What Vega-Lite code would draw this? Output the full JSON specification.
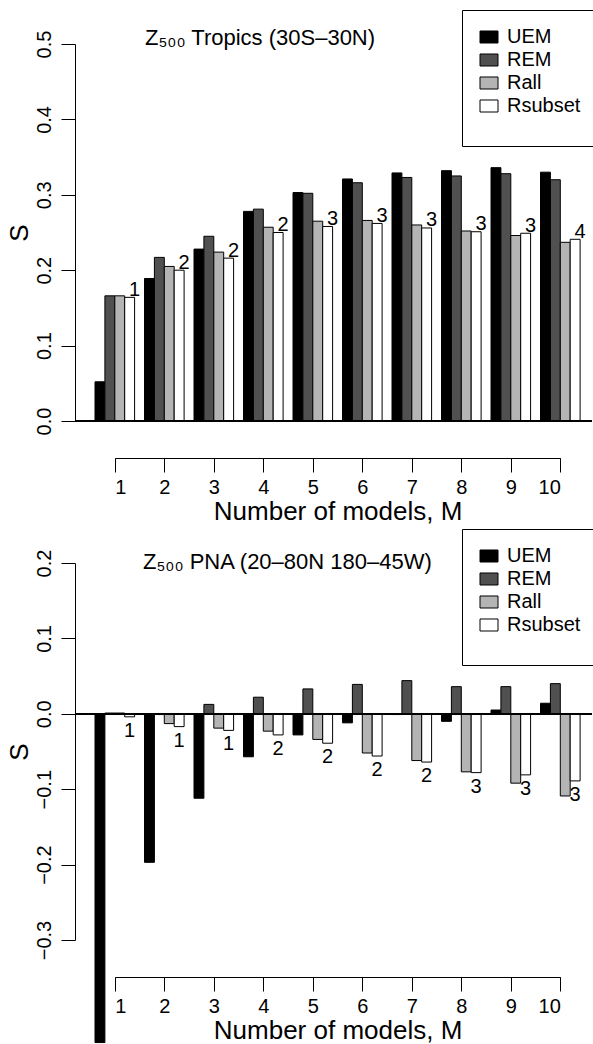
{
  "$schema": "https://vega.github.io/schema/vega-lite/v6.json",
  "padding": {"left": 6, "top": 9, "right": 0, "bottom": 0},
  "background": "white",
  "config": {
    "font": "Liberation Sans",
    "view": {"stroke": null},
    "axis": {"grid": false, "domainColor": "black", "tickColor": "black", "labelColor": "black", "titleColor": "black", "labelFontSize": 20, "titleFontSize": 26, "titleFontWeight": "normal", "tickSize": 14, "domainWidth": 1, "tickWidth": 1},
    "legend": {"labelColor": "black"},
    "title": {"color": "black", "fontWeight": "normal", "fontSize": 22}
  },
  "datasets": {
    "tropics": [
      {"M": 1, "series": "UEM", "S": 0.052}, {"M": 1, "series": "REM", "S": 0.166}, {"M": 1, "series": "Rall", "S": 0.166}, {"M": 1, "series": "Rsubset", "S": 0.164, "n": "1"},
      {"M": 2, "series": "UEM", "S": 0.189}, {"M": 2, "series": "REM", "S": 0.217}, {"M": 2, "series": "Rall", "S": 0.205}, {"M": 2, "series": "Rsubset", "S": 0.200, "n": "2"},
      {"M": 3, "series": "UEM", "S": 0.228}, {"M": 3, "series": "REM", "S": 0.245}, {"M": 3, "series": "Rall", "S": 0.224}, {"M": 3, "series": "Rsubset", "S": 0.216, "n": "2"},
      {"M": 4, "series": "UEM", "S": 0.278}, {"M": 4, "series": "REM", "S": 0.281}, {"M": 4, "series": "Rall", "S": 0.257}, {"M": 4, "series": "Rsubset", "S": 0.250, "n": "2"},
      {"M": 5, "series": "UEM", "S": 0.303}, {"M": 5, "series": "REM", "S": 0.302}, {"M": 5, "series": "Rall", "S": 0.265}, {"M": 5, "series": "Rsubset", "S": 0.258, "n": "3"},
      {"M": 6, "series": "UEM", "S": 0.321}, {"M": 6, "series": "REM", "S": 0.316}, {"M": 6, "series": "Rall", "S": 0.266}, {"M": 6, "series": "Rsubset", "S": 0.262, "n": "3"},
      {"M": 7, "series": "UEM", "S": 0.329}, {"M": 7, "series": "REM", "S": 0.323}, {"M": 7, "series": "Rall", "S": 0.260}, {"M": 7, "series": "Rsubset", "S": 0.256, "n": "3"},
      {"M": 8, "series": "UEM", "S": 0.332}, {"M": 8, "series": "REM", "S": 0.325}, {"M": 8, "series": "Rall", "S": 0.252}, {"M": 8, "series": "Rsubset", "S": 0.251, "n": "3"},
      {"M": 9, "series": "UEM", "S": 0.336}, {"M": 9, "series": "REM", "S": 0.328}, {"M": 9, "series": "Rall", "S": 0.246}, {"M": 9, "series": "Rsubset", "S": 0.249, "n": "3"},
      {"M": 10, "series": "UEM", "S": 0.330}, {"M": 10, "series": "REM", "S": 0.320}, {"M": 10, "series": "Rall", "S": 0.237}, {"M": 10, "series": "Rsubset", "S": 0.241, "n": "4"}
    ],
    "pna": [
      {"M": 1, "series": "UEM", "S": -0.436}, {"M": 1, "series": "REM", "S": 0.001}, {"M": 1, "series": "Rall", "S": 0.001}, {"M": 1, "series": "Rsubset", "S": -0.004, "n": "1"},
      {"M": 2, "series": "UEM", "S": -0.197}, {"M": 2, "series": "REM", "S": -0.001}, {"M": 2, "series": "Rall", "S": -0.013}, {"M": 2, "series": "Rsubset", "S": -0.017, "n": "1"},
      {"M": 3, "series": "UEM", "S": -0.112}, {"M": 3, "series": "REM", "S": 0.0125}, {"M": 3, "series": "Rall", "S": -0.019}, {"M": 3, "series": "Rsubset", "S": -0.022, "n": "1"},
      {"M": 4, "series": "UEM", "S": -0.057}, {"M": 4, "series": "REM", "S": 0.022}, {"M": 4, "series": "Rall", "S": -0.023}, {"M": 4, "series": "Rsubset", "S": -0.028, "n": "2"},
      {"M": 5, "series": "UEM", "S": -0.028}, {"M": 5, "series": "REM", "S": 0.033}, {"M": 5, "series": "Rall", "S": -0.034}, {"M": 5, "series": "Rsubset", "S": -0.039, "n": "2"},
      {"M": 6, "series": "UEM", "S": -0.012}, {"M": 6, "series": "REM", "S": 0.039}, {"M": 6, "series": "Rall", "S": -0.052}, {"M": 6, "series": "Rsubset", "S": -0.056, "n": "2"},
      {"M": 7, "series": "UEM", "S": -0.001}, {"M": 7, "series": "REM", "S": 0.044}, {"M": 7, "series": "Rall", "S": -0.062}, {"M": 7, "series": "Rsubset", "S": -0.064, "n": "2"},
      {"M": 8, "series": "UEM", "S": -0.010}, {"M": 8, "series": "REM", "S": 0.036}, {"M": 8, "series": "Rall", "S": -0.077}, {"M": 8, "series": "Rsubset", "S": -0.078, "n": "3"},
      {"M": 9, "series": "UEM", "S": 0.005}, {"M": 9, "series": "REM", "S": 0.036}, {"M": 9, "series": "Rall", "S": -0.092}, {"M": 9, "series": "Rsubset", "S": -0.081, "n": "3"},
      {"M": 10, "series": "UEM", "S": 0.014}, {"M": 10, "series": "REM", "S": 0.040}, {"M": 10, "series": "Rall", "S": -0.109}, {"M": 10, "series": "Rsubset", "S": -0.089, "n": "3"}
    ]
  },
  "spacing": 4,
  "resolve": {"scale": {"fill": "independent"}, "legend": {"fill": "independent"}},
  "vconcat": [
    {
      "width": 517,
      "height": 377,
      "data": {"name": "tropics"},
      "title": {"text": "Z₅₀₀  Tropics (30S–30N)", "anchor": "start", "frame": "group", "dx": 70, "dy": 55, "offset": -2, "baseline": "alphabetic"},
      "layer": [
        {
          "layer": [
            {
              "mark": {"type": "bar", "stroke": "black", "strokeWidth": 1},
              "encoding": {
                "x": {"field": "M", "type": "ordinal", "scale": {"paddingInner": 0.2, "paddingOuter": 0.3222, "align": 0.627}, "axis": null},
                "xOffset": {"field": "series", "sort": ["UEM", "REM", "Rall", "Rsubset"], "scale": {"paddingInner": 0, "paddingOuter": 0}},
                "y": {"field": "S", "type": "quantitative", "scale": {"domain": [0, 0.5], "nice": false}, "axis": {"values": [0, 0.1, 0.2, 0.3, 0.4, 0.5], "format": ".1f", "labelAngle": 270, "labelAlign": "center", "labelBaseline": "bottom", "labelPadding": 7, "title": "S", "titlePadding": 2}},
                "fill": {"field": "series", "sort": ["UEM", "REM", "Rall", "Rsubset"], "scale": {"domain": ["UEM", "REM", "Rall", "Rsubset"], "range": ["#000000", "#505050", "#b4b4b4", "#ffffff"]}, "legend": {"orient": "none", "legendX": 387, "legendY": -34, "title": " ", "titleOrient": "bottom", "titleFontSize": 12, "titlePadding": 2, "strokeColor": "black", "padding": 17, "symbolType": "M-1,-0.667H1V0.667H-1Z", "symbolSize": 324, "symbolStrokeColor": "black", "symbolStrokeWidth": 1, "labelFontSize": 20, "labelOffset": 8, "rowPadding": 3}}
              }
            },
            {
              "mark": {"type": "rule", "color": "black", "strokeWidth": 1},
              "encoding": {"y": {"datum": 0}}
            },
            {
              "transform": [{"filter": "datum.series === 'Rsubset'"}],
              "mark": {"type": "text", "baseline": "alphabetic", "align": "center", "dx": 5, "dy": -1.5, "fontSize": 20, "color": "black"},
              "encoding": {
                "x": {"field": "M", "type": "ordinal"},
                "xOffset": {"field": "series", "sort": ["UEM", "REM", "Rall", "Rsubset"]},
                "y": {"field": "S", "type": "quantitative"},
                "text": {"field": "n"}
              }
            }
          ]
        },
        {
          "mark": {"type": "point", "opacity": 0},
          "encoding": {
            "x": {"field": "M", "type": "quantitative", "scale": {"domain": [1, 10], "range": [39.8, 485.3], "nice": false, "zero": false}, "axis": {"values": [1, 2, 3, 4, 5, 6, 7, 8, 9, 10], "format": "d", "orient": "bottom", "offset": 37, "labelPadding": 5, "title": "Number of models, M", "titlePadding": 1}},
            "y": {"field": "S", "type": "quantitative"}
          }
        }
      ],
      "resolve": {"scale": {"x": "independent"}, "axis": {"x": "independent"}}
    },
    {
      "width": 517,
      "height": 377,
      "data": {"name": "pna"},
      "title": {"text": "Z₅₀₀  PNA (20–80N 180–45W)", "anchor": "start", "frame": "group", "dx": 68, "dy": 60, "offset": -2, "baseline": "alphabetic"},
      "layer": [
        {
          "layer": [
            {
              "mark": {"type": "bar", "stroke": "black", "strokeWidth": 1},
              "encoding": {
                "x": {"field": "M", "type": "ordinal", "scale": {"paddingInner": 0.2, "paddingOuter": 0.3222, "align": 0.627}, "axis": null},
                "xOffset": {"field": "series", "sort": ["UEM", "REM", "Rall", "Rsubset"], "scale": {"paddingInner": 0, "paddingOuter": 0}},
                "y": {"field": "S", "type": "quantitative", "scale": {"domain": [-0.3, 0.2], "nice": false, "zero": false}, "axis": {"values": [-0.3, -0.2, -0.1, 0, 0.1, 0.2], "format": ".1f", "labelAngle": 270, "labelAlign": "center", "labelBaseline": "bottom", "labelPadding": 7, "title": "S", "titlePadding": 2}},
                "fill": {"field": "series", "sort": ["UEM", "REM", "Rall", "Rsubset"], "scale": {"domain": ["UEM", "REM", "Rall", "Rsubset"], "range": ["#000000", "#505050", "#b4b4b4", "#ffffff"]}, "legend": {"orient": "none", "legendX": 387, "legendY": -34, "title": " ", "titleOrient": "bottom", "titleFontSize": 12, "titlePadding": 2, "strokeColor": "black", "padding": 17, "symbolType": "M-1,-0.667H1V0.667H-1Z", "symbolSize": 324, "symbolStrokeColor": "black", "symbolStrokeWidth": 1, "labelFontSize": 20, "labelOffset": 8, "rowPadding": 3}}
              }
            },
            {
              "mark": {"type": "rule", "color": "black", "strokeWidth": 1},
              "encoding": {"y": {"datum": 0}}
            },
            {
              "transform": [{"filter": "datum.series === 'Rsubset'"}],
              "mark": {"type": "text", "baseline": "top", "align": "center", "dx": 0, "dy": 4, "fontSize": 20, "color": "black"},
              "encoding": {
                "x": {"field": "M", "type": "ordinal"},
                "xOffset": {"field": "series", "sort": ["UEM", "REM", "Rall", "Rsubset"]},
                "y": {"field": "S", "type": "quantitative"},
                "text": {"field": "n"}
              }
            }
          ]
        },
        {
          "mark": {"type": "point", "opacity": 0},
          "encoding": {
            "x": {"field": "M", "type": "quantitative", "scale": {"domain": [1, 10], "range": [39.8, 485.3], "nice": false, "zero": false}, "axis": {"values": [1, 2, 3, 4, 5, 6, 7, 8, 9, 10], "format": "d", "orient": "bottom", "offset": 37, "labelPadding": 5, "title": "Number of models, M", "titlePadding": 1}},
            "y": {"field": "S", "type": "quantitative"}
          }
        }
      ],
      "resolve": {"scale": {"x": "independent"}, "axis": {"x": "independent"}}
    }
  ]
}
